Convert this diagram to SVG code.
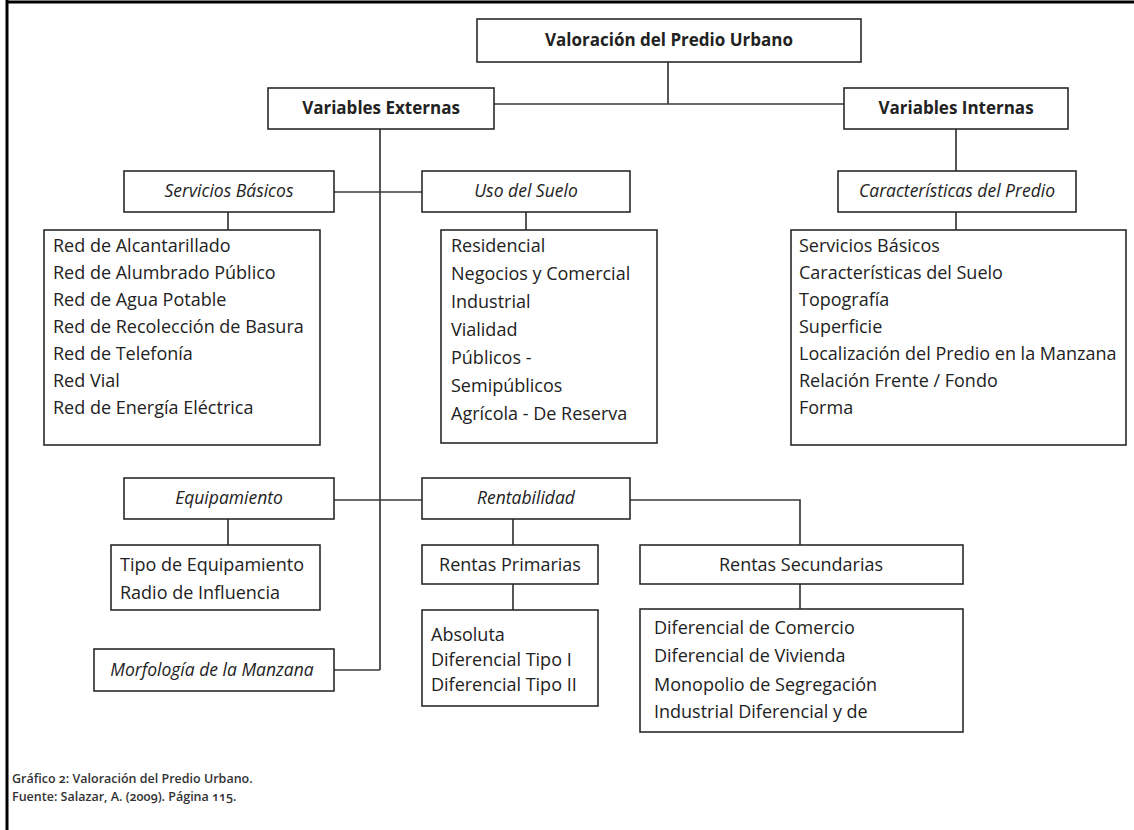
<svg xmlns="http://www.w3.org/2000/svg" width="1134" height="830" viewBox="0 0 1134 830">
  <style>
    .box { fill: #fff; stroke: #2a2a2a; stroke-width: 1.6; }
    .wire { fill: none; stroke: #3a3a3a; stroke-width: 1.7; }
    .frame { stroke: #000; stroke-width: 3; }
    text { font-family: "Open Sans", "Noto Sans", sans-serif; font-size: 18px; fill: #222; }
    .title { font-size: 17px; font-weight: bold; text-anchor: middle; }
    .head { font-size: 17.5px; font-style: italic; text-anchor: middle; }
    .plain { text-anchor: middle; }
    .cap { font-size: 12.5px; font-weight: 600; fill: #333; font-variant-numeric: oldstyle-nums; }
  </style>

  <rect x="0" y="0" width="1134" height="830" fill="#fff"/>
  <line class="frame" x1="7" y1="0" x2="7" y2="830"/>
  <line class="frame" x1="6" y1="2" x2="1134" y2="2"/>

  <g id="connectors">
    <path class="wire" d="M668 62 V104 M476 104 H844"/>
    <path class="wire" d="M380 129 V670 M334 670 H380"/>
    <path class="wire" d="M334 192 H422"/>
    <path class="wire" d="M956 129 V171 M956 212 V230"/>
    <path class="wire" d="M228 212 V230 M526 212 V230"/>
    <path class="wire" d="M334 500 H422"/>
    <path class="wire" d="M228 519 V545"/>
    <path class="wire" d="M513 519 V545 M513 584 V610"/>
    <path class="wire" d="M630 500 H800 V545 M800 584 V609"/>
  </g>

  <g id="root">
    <rect class="box" x="477" y="19" width="384" height="43"/>
    <text class="title" x="669" y="46">Valoración del Predio Urbano</text>
  </g>
  <g id="ext">
    <rect class="box" x="268" y="88" width="226" height="41"/>
    <text class="title" x="381" y="114">Variables Externas</text>
  </g>
  <g id="int">
    <rect class="box" x="844" y="88" width="224" height="41"/>
    <text class="title" x="956" y="114">Variables Internas</text>
  </g>

  <g id="servicios">
    <rect class="box" x="124" y="171" width="210" height="41"/>
    <text class="head" x="229" y="197">Servicios Básicos</text>
  </g>
  <g id="uso">
    <rect class="box" x="422" y="171" width="208" height="41"/>
    <text class="head" x="526" y="197">Uso del Suelo</text>
  </g>
  <g id="caracteristicas">
    <rect class="box" x="838" y="171" width="238" height="41"/>
    <text class="head" x="957" y="197">Características del Predio</text>
  </g>

  <g id="servicios-lista">
    <rect class="box" x="44" y="230" width="276" height="215"/>
    <text x="53" y="252">Red de Alcantarillado</text>
    <text x="53" y="279">Red de Alumbrado Público</text>
    <text x="53" y="306">Red de Agua Potable</text>
    <text x="53" y="333">Red de Recolección de Basura</text>
    <text x="53" y="360">Red de Telefonía</text>
    <text x="53" y="387">Red Vial</text>
    <text x="53" y="414">Red de Energía Eléctrica</text>
  </g>
  <g id="uso-lista">
    <rect class="box" x="441" y="230" width="216" height="213"/>
    <text x="451" y="252">Residencial</text>
    <text x="451" y="280">Negocios y Comercial</text>
    <text x="451" y="308">Industrial</text>
    <text x="451" y="336">Vialidad</text>
    <text x="451" y="364">Públicos -</text>
    <text x="451" y="392">Semipúblicos</text>
    <text x="451" y="420">Agrícola - De Reserva</text>
  </g>
  <g id="caracteristicas-lista">
    <rect class="box" x="791" y="230" width="335" height="215"/>
    <text x="799" y="252">Servicios Básicos</text>
    <text x="799" y="279">Características del Suelo</text>
    <text x="799" y="306">Topografía</text>
    <text x="799" y="333">Superficie</text>
    <text x="799" y="360">Localización del Predio en la Manzana</text>
    <text x="799" y="387">Relación Frente / Fondo</text>
    <text x="799" y="414">Forma</text>
  </g>

  <g id="equipamiento">
    <rect class="box" x="124" y="478" width="210" height="41"/>
    <text class="head" x="229" y="504">Equipamiento</text>
  </g>
  <g id="rentabilidad">
    <rect class="box" x="422" y="478" width="208" height="41"/>
    <text class="head" x="526" y="504">Rentabilidad</text>
  </g>
  <g id="equipamiento-lista">
    <rect class="box" x="111" y="545" width="209" height="65"/>
    <text x="120" y="571">Tipo de Equipamiento</text>
    <text x="120" y="599">Radio de Influencia</text>
  </g>
  <g id="rentas-primarias">
    <rect class="box" x="422" y="545" width="176" height="39"/>
    <text class="plain" x="510" y="571">Rentas Primarias</text>
  </g>
  <g id="rentas-secundarias">
    <rect class="box" x="640" y="545" width="323" height="39"/>
    <text class="plain" x="801" y="571">Rentas Secundarias</text>
  </g>
  <g id="primarias-lista">
    <rect class="box" x="422" y="610" width="176" height="96"/>
    <text x="431" y="641">Absoluta</text>
    <text x="431" y="666">Diferencial Tipo I</text>
    <text x="431" y="691">Diferencial Tipo II</text>
  </g>
  <g id="secundarias-lista">
    <rect class="box" x="640" y="609" width="323" height="123"/>
    <text x="654" y="634">Diferencial de Comercio</text>
    <text x="654" y="662">Diferencial de Vivienda</text>
    <text x="654" y="691">Monopolio de Segregación</text>
    <text x="654" y="718">Industrial Diferencial y de</text>
  </g>
  <g id="morfologia">
    <rect class="box" x="94" y="649" width="240" height="42"/>
    <text class="head" x="212" y="676">Morfología de la Manzana</text>
  </g>

  <g id="caption">
    <text class="cap" x="12" y="783">Gráfico 2: Valoración del Predio Urbano.</text>
    <text class="cap" x="12" y="801">Fuente: Salazar, A. (2009). Página 115.</text>
  </g>
</svg>
